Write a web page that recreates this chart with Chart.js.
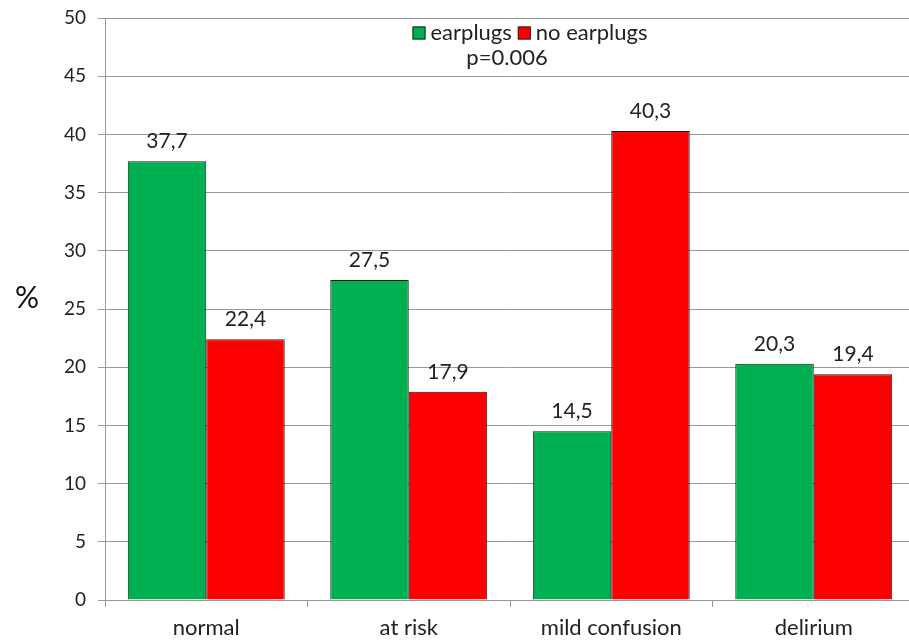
<!DOCTYPE html>
<html><head><meta charset="utf-8">
<script src="https://cdn.jsdelivr.net/npm/chart.js@4"></script>
<style>html,body{margin:0;padding:0;background:#fff;overflow:hidden}#w{width:915px;height:643px}</style>
</head><body><div id="w"><canvas id="c"></canvas></div>
<script>
const categories = ["normal", "at risk", "mild confusion", "delirium"];
const earplugs = [37.7, 27.5, 14.5, 20.3];
const noEarplugs = [22.4, 17.9, 40.3, 19.4];
const seriesNames = ["earplugs", "no earplugs"];
const yTicks = [0,5,10,15,20,25,30,35,40,45,50];
const pText = "p=0.006";
const FONT = "Lato, 'Liberation Sans', sans-serif";

const labelsPlugin = {
  id: 'vals',
  afterDatasetsDraw(chart) {
    const ctx = chart.ctx;
    ctx.save();
    ctx.font = "21px " + FONT;
    ctx.fillStyle = "#222";
    ctx.textAlign = "center";
    ctx.textBaseline = "alphabetic";
    chart.data.datasets.forEach((ds, i) => {
      chart.getDatasetMeta(i).data.forEach((bar, j) => {
        ctx.fillText(ds.data[j].toFixed(1).replace('.', ','), bar.x, bar.y - 13);
      });
    });
    // legend
    ctx.font = "22px " + FONT;
    ctx.textAlign = "left";
    ctx.textBaseline = "middle";
    const box = 13, gap = 5, sep = 6;
    const items = chart.data.datasets.map(d => ({t: d.label, c: d.backgroundColor, w: ctx.measureText(d.label).width}));
    let total = items.reduce((s, it) => s + box + gap + it.w, 0) + sep * (items.length - 1);
    let x = 530 - total / 2;
    const y = 33;
    items.forEach(it => {
      ctx.fillStyle = it.c;
      ctx.fillRect(x, y - box / 2, box, box);
      ctx.strokeStyle = "#222"; ctx.lineWidth = 1;
      ctx.strokeRect(x + 0.5, y - box / 2 + 0.5, box - 1, box - 1);
      x += box + gap;
      ctx.fillStyle = "#222";
      ctx.fillText(it.t, x, y);
      x += it.w + sep;
    });
    ctx.textAlign = "center";
    ctx.fillText(pText, 507, 58);
    // y title
    ctx.font = "30px " + FONT;
    ctx.fillStyle = "#111";
    ctx.fillText("%", 27, 298);
    ctx.restore();
  }
};

new Chart(document.getElementById('c'), {
  type: 'bar',
  data: {
    labels: categories,
    datasets: [
      {label: seriesNames[0], data: earplugs, backgroundColor: "#00B050", borderColor: "#1a1a1a", borderWidth: 1},
      {label: seriesNames[1], data: noEarplugs, backgroundColor: "#FF0000", borderColor: "#1a1a1a", borderWidth: 1}
    ]
  },
  options: {
    responsive: true, maintainAspectRatio: false, animation: false,
    devicePixelRatio: 1,
    layout: {padding: {top: 18, right: 0, left: 0, bottom: 0}},
    datasets: {bar: {categoryPercentage: 0.775, barPercentage: 1}},
    plugins: {legend: {display: false}, tooltip: {enabled: false}},
    scales: {
      x: {
        grid: {drawOnChartArea: false, drawTicks: true, tickLength: 7, offset: true, color: "#999"},
        border: {color: "#999"},
        ticks: {font: {size: 22, family: FONT}, color: "#222", padding: 8},
        afterFit(s) { s.height = 43; s.paddingLeft = 0; s.paddingRight = 0; }
      },
      y: {
        min: 0, max: 50,
        afterBuildTicks(s) { s.ticks = yTicks.map(v => ({value: v})); },
        grid: {color: "#999", tickLength: 7},
        border: {color: "#999"},
        ticks: {font: {size: 19, family: FONT}, color: "#222", padding: 12},
        afterFit(s) { s.width = 105; s.paddingTop = 0; s.paddingBottom = 0; }
      }
    }
  },
  plugins: [labelsPlugin]
});
</script></body></html>
